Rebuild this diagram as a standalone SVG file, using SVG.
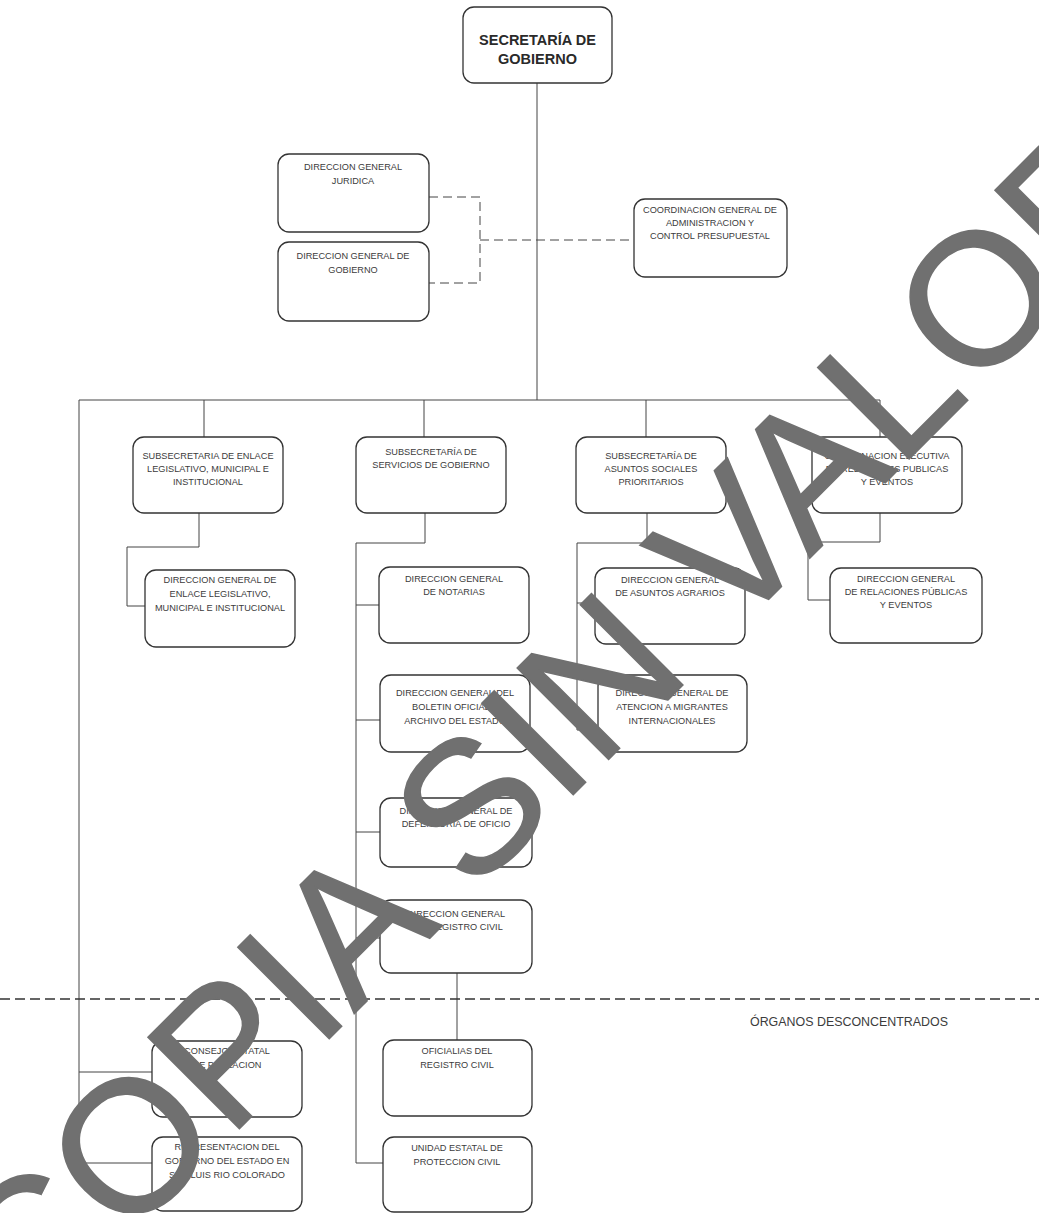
<svg xmlns="http://www.w3.org/2000/svg" width="1039" height="1213" viewBox="0 0 1039 1213">
<style>
.box{fill:#fff;stroke:#333;stroke-width:1.3}
.t{font-family:"Liberation Sans",Arial,sans-serif;font-size:9.2px;fill:#3c3c3c;text-anchor:middle}
.title{font-family:"Liberation Sans",Arial,sans-serif;font-size:14.5px;font-weight:bold;fill:#2a2a2a;text-anchor:middle}
.ln{stroke:#444;stroke-width:1;fill:none}
.dl{stroke:#444;stroke-width:1;fill:none;stroke-dasharray:9 5}
.sep{stroke:#333;stroke-width:1.6;fill:none;stroke-dasharray:10 5}
.wm{font-family:"Liberation Sans",Arial,sans-serif;font-size:188px;fill:#707070;stroke:#707070;stroke-width:1.5}
</style>
<rect width="1039" height="1213" fill="#fff"/>
<g id="connectors">
<path class="ln" d="M537 83V400"/>
<path class="ln" d="M79 400H880"/>
<path class="ln" d="M79 400V1163H152M79 1072H152"/>
<path class="ln" d="M204 400V437M424 400V437M646 400V437M880 400V437"/>
<path class="ln" d="M199 513V547H127V606H145"/>
<path class="ln" d="M425 513V543H356V1163H383M356 605H379M356 720H380M356 832H380M356 938H380"/>
<path class="ln" d="M457 973V1040"/>
<path class="ln" d="M647 513V543H577V730H598M577 603H595"/>
<path class="ln" d="M880 513V542H808V600H830"/>
<path class="dl" d="M429 197H480V283H429M480 240H634"/>
<path class="sep" d="M0 999H1039"/>
</g>
<g id="n-secretaria"><rect class="box" x="463" y="7" width="149" height="76" rx="11"/><text class="title" x="537.5" y="45">SECRETARÍA DE</text><text class="title" x="537.5" y="64">GOBIERNO</text></g>
<g id="n-juridica"><rect class="box" x="278" y="154" width="151" height="78" rx="11"/><text class="t" x="353" y="170">DIRECCION GENERAL</text><text class="t" x="353" y="184">JURIDICA</text></g>
<g id="n-gobierno"><rect class="box" x="278" y="242" width="151" height="79" rx="11"/><text class="t" x="353" y="259">DIRECCION GENERAL DE</text><text class="t" x="353" y="273">GOBIERNO</text></g>
<g id="n-admin"><rect class="box" x="634" y="199" width="153" height="78" rx="11"/><text class="t" x="710" y="213">COORDINACION GENERAL DE</text><text class="t" x="710" y="226">ADMINISTRACION Y</text><text class="t" x="710" y="239">CONTROL PRESUPUESTAL</text></g>
<g id="n-enlace"><rect class="box" x="133" y="437" width="150" height="76" rx="11"/><text class="t" x="208" y="459">SUBSECRETARIA DE ENLACE</text><text class="t" x="208" y="472">LEGISLATIVO, MUNICIPAL E</text><text class="t" x="208" y="485">INSTITUCIONAL</text></g>
<g id="n-servicios"><rect class="box" x="356" y="437" width="150" height="76" rx="11"/><text class="t" x="431" y="455">SUBSECRETARÍA DE</text><text class="t" x="431" y="468">SERVICIOS DE GOBIERNO</text></g>
<g id="n-asuntos"><rect class="box" x="576" y="437" width="150" height="76" rx="11"/><text class="t" x="651" y="459">SUBSECRETARÍA DE</text><text class="t" x="651" y="472">ASUNTOS SOCIALES</text><text class="t" x="651" y="485">PRIORITARIOS</text></g>
<g id="n-coordej"><rect class="box" x="812" y="437" width="150" height="76" rx="11"/><text class="t" x="887" y="459">COORDINACION EJECUTIVA</text><text class="t" x="887" y="472">DE RELACIONES PUBLICAS</text><text class="t" x="887" y="485">Y EVENTOS</text></g>
<g id="n-dgenlace"><rect class="box" x="145" y="570" width="150" height="77" rx="11"/><text class="t" x="220" y="583">DIRECCION GENERAL DE</text><text class="t" x="220" y="597">ENLACE LEGISLATIVO,</text><text class="t" x="220" y="611">MUNICIPAL E INSTITUCIONAL</text></g>
<g id="n-notarias"><rect class="box" x="379" y="567" width="150" height="76" rx="11"/><text class="t" x="454" y="582">DIRECCION GENERAL</text><text class="t" x="454" y="595">DE NOTARIAS</text></g>
<g id="n-agrarios"><rect class="box" x="595" y="568" width="150" height="76" rx="11"/><text class="t" x="670" y="583">DIRECCION GENERAL</text><text class="t" x="670" y="596">DE ASUNTOS AGRARIOS</text></g>
<g id="n-relaciones"><rect class="box" x="830" y="568" width="152" height="75" rx="11"/><text class="t" x="906" y="582">DIRECCION GENERAL</text><text class="t" x="906" y="595">DE RELACIONES PÚBLICAS</text><text class="t" x="906" y="608">Y EVENTOS</text></g>
<g id="n-boletin"><rect class="box" x="380" y="675" width="150" height="77" rx="11"/><text class="t" x="455" y="696">DIRECCION GENERAL DEL</text><text class="t" x="455" y="710">BOLETIN OFICIAL Y</text><text class="t" x="455" y="724">ARCHIVO DEL ESTADO</text></g>
<g id="n-migrantes"><rect class="box" x="598" y="675" width="149" height="77" rx="11"/><text class="t" x="672" y="696">DIRECCION GENERAL DE</text><text class="t" x="672" y="710">ATENCION A MIGRANTES</text><text class="t" x="672" y="724">INTERNACIONALES</text></g>
<g id="n-defensoria"><rect class="box" x="380" y="798" width="152" height="69" rx="11"/><text class="t" x="456" y="814">DIRECCION GENERAL DE</text><text class="t" x="456" y="827">DEFENSORIA DE OFICIO</text></g>
<g id="n-registro"><rect class="box" x="380" y="900" width="152" height="73" rx="11"/><text class="t" x="456" y="917">DIRECCION GENERAL</text><text class="t" x="456" y="930">DEL REGISTRO CIVIL</text></g>
<g id="n-consejo"><rect class="box" x="152" y="1041" width="150" height="76" rx="11"/><text class="t" x="227" y="1054">CONSEJO ESTATAL</text><text class="t" x="227" y="1068">DE POBLACION</text></g>
<g id="n-representacion"><rect class="box" x="152" y="1137" width="150" height="74" rx="11"/><text class="t" x="227" y="1150">REPRESENTACION DEL</text><text class="t" x="227" y="1164">GOBIERNO DEL ESTADO EN</text><text class="t" x="227" y="1178">SAN LUIS RIO COLORADO</text></g>
<g id="n-oficialias"><rect class="box" x="383" y="1040" width="149" height="76" rx="11"/><text class="t" x="457" y="1054">OFICIALIAS DEL</text><text class="t" x="457" y="1068">REGISTRO CIVIL</text></g>
<g id="n-unidad"><rect class="box" x="383" y="1137" width="149" height="75" rx="11"/><text class="t" x="457" y="1151">UNIDAD ESTATAL DE</text><text class="t" x="457" y="1165">PROTECCION CIVIL</text></g>
<g id="label-organos"><text x="849" y="1026" style="font-family:'Liberation Sans',Arial,sans-serif;font-size:12px;fill:#3c3c3c;text-anchor:middle" textLength="198" lengthAdjust="spacingAndGlyphs">ÓRGANOS DESCONCENTRADOS</text></g>
<g id="watermark"><text class="wm" x="29" y="1339" transform="rotate(-45 29 1339)">COPIA SIN VALOR</text></g>
</svg>
